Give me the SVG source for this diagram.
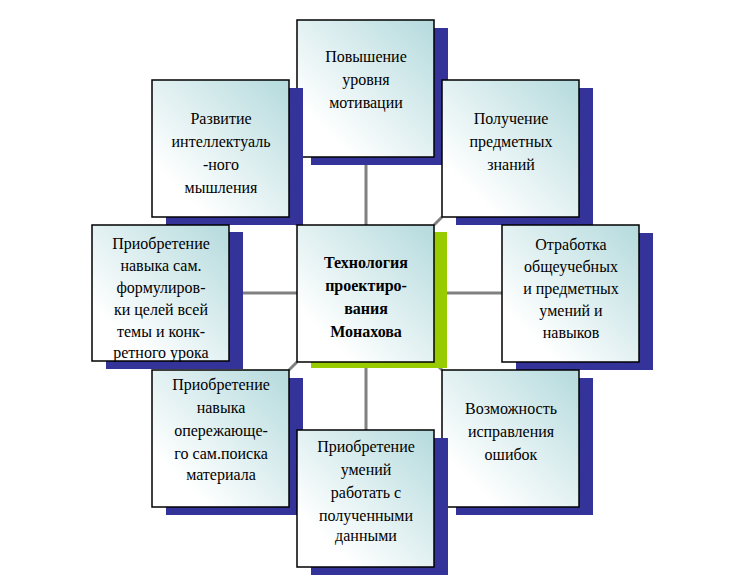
<svg xmlns="http://www.w3.org/2000/svg" width="732" height="588" viewBox="0 0 732 588">
<defs>
<linearGradient id="g" x1="0" y1="1" x2="1" y2="0">
<stop offset="0.2" stop-color="#ffffff"/><stop offset="1" stop-color="#b4dadd"/>
</linearGradient>
<style>
.b{fill:url(#g);stroke:#000;stroke-width:1.5}
.s{fill:#333399}
.t{font-family:'Liberation Serif','Times New Roman','DejaVu Serif',serif;font-size:16px;text-anchor:middle;fill:#000}
.c{stroke:#808080;stroke-width:3;fill:none}
</style>
</defs>
<rect width="732" height="588" fill="#fff"/>
<g id="connectors">
<path class="c" d="M366 157V225M366 362V430M229 293H297M434 293H502M289 217L297 225M434 225L442 217M297 362L289 370M434 362L442 370"/>
</g>
<g id="n-top"><rect class="s" x="311" y="28" width="137" height="137"/><rect class="b" x="297" y="20" width="137" height="137"/>
<text class="t" x="366" y="62">Повышение</text><text class="t" x="366" y="85">уровня</text><text class="t" x="366" y="108">мотивации</text></g>
<g id="n-tl"><rect class="s" x="166" y="88" width="137" height="137"/><rect class="b" x="152" y="80" width="137" height="137"/>
<text class="t" x="221" y="124">Развитие</text><text class="t" x="221" y="147">интеллектуаль</text><text class="t" x="221" y="170">-ного</text><text class="t" x="221" y="193">мышления</text></g>
<g id="n-tr"><rect class="s" x="456" y="88" width="137" height="137"/><rect class="b" x="442" y="80" width="137" height="137"/>
<text class="t" x="511" y="124">Получение</text><text class="t" x="511" y="147">предметных</text><text class="t" x="511" y="170">знаний</text></g>
<g id="n-l"><rect class="s" x="106" y="232" width="137" height="137"/><rect class="b" x="92" y="225" width="137" height="136"/>
<text class="t" x="161" y="249">Приобретение</text><text class="t" x="161" y="271">навыка сам.</text><text class="t" x="161" y="293">формулиров-</text><text class="t" x="161" y="315">ки целей всей</text><text class="t" x="161" y="337">темы и конк-</text><text class="t" x="161" y="358">ретного урока</text></g>
<g id="n-r"><rect class="s" x="516" y="233" width="137" height="137"/><rect class="b" x="502" y="225" width="137" height="137"/>
<text class="t" x="571" y="250">Отработка</text><text class="t" x="571" y="272">общеучебных</text><text class="t" x="571" y="294">и предметных</text><text class="t" x="571" y="316">умений и</text><text class="t" x="571" y="338">навыков</text></g>
<g id="n-center"><rect x="311" y="232" width="136" height="136" fill="#99cc00"/><rect class="b" x="297" y="225" width="137" height="137"/>
<g style="font-weight:bold"><text class="t" x="366" y="268">Технология</text><text class="t" x="366" y="291">проектиро-</text><text class="t" x="366" y="314">вания</text><text class="t" x="366" y="337">Монахова</text></g></g>
<g id="n-bl"><rect class="s" x="166" y="378" width="137" height="137"/><rect class="b" x="152" y="370" width="137" height="137"/>
<text class="t" x="221" y="390">Приобретение</text><text class="t" x="221" y="413">навыка</text><text class="t" x="221" y="436">опережающе-</text><text class="t" x="221" y="459">го сам.поиска</text><text class="t" x="221" y="480">материала</text></g>
<g id="n-br"><rect class="s" x="456" y="378" width="137" height="137"/><rect class="b" x="442" y="370" width="137" height="137"/>
<text class="t" x="511" y="414">Возможность</text><text class="t" x="511" y="437">исправления</text><text class="t" x="511" y="460">ошибок</text></g>
<g id="n-bottom"><rect class="s" x="311" y="438" width="137" height="137"/><rect class="b" x="297" y="430" width="137" height="137"/>
<text class="t" x="366" y="452">Приобретение</text><text class="t" x="366" y="475">умений</text><text class="t" x="366" y="498">работать с</text><text class="t" x="366" y="521">полученными</text><text class="t" x="366" y="541">данными</text></g>
</svg>
